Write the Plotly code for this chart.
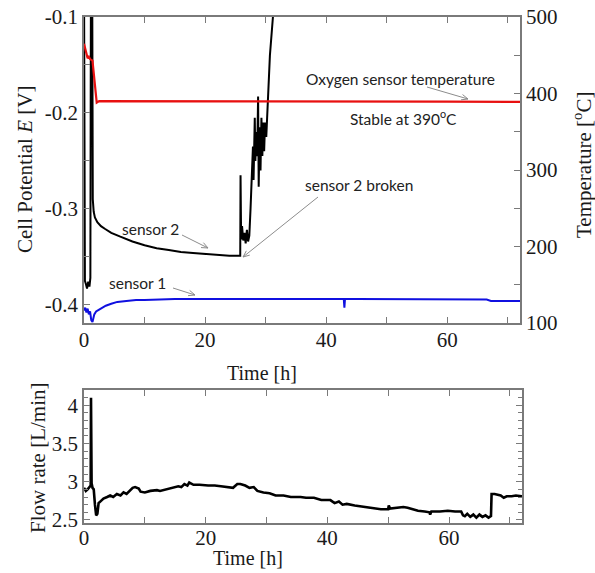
import math
import plotly.graph_objects as go

# ---------------- data ----------------
s2_t = [0.0, 0.15, 0.3, 0.5, 0.7, 0.9, 1.05, 1.15, 1.35, 1.45, 1.6, 1.8, 2.2, 2.8, 3.5, 4.5, 6, 8, 10, 12,
        14, 16, 18, 20, 22, 24, 25.8, 25.85, 25.95, 26.1, 26.3, 26.5, 26.7, 26.9, 27.1, 27.3, 27.5, 27.7,
        27.9, 28.0, 28.1, 28.2, 28.3, 28.45, 28.6, 28.75, 28.85, 29.0, 29.15, 29.3, 29.45, 29.6, 29.75,
        29.9, 30.1, 30.3, 30.7, 31.2, 31.6]
s2_E = [-0.05, -0.375, -0.378, -0.383, -0.376, -0.381, -0.372, -0.05, -0.05, -0.29, -0.303, -0.309, -0.314,
        -0.318, -0.321, -0.325, -0.329, -0.334, -0.338, -0.341, -0.343, -0.345, -0.346, -0.347, -0.348,
        -0.349, -0.349, -0.265, -0.332, -0.318, -0.333, -0.325, -0.336, -0.322, -0.334, -0.328, -0.300,
        -0.262, -0.235, -0.27, -0.215, -0.205, -0.25, -0.22, -0.245, -0.183, -0.277, -0.215, -0.26,
        -0.205, -0.245, -0.21, -0.24, -0.21, -0.225, -0.19, -0.14, -0.1, -0.08]

s1_t = [0, 0.2, 0.4, 0.6, 0.8, 1.0, 1.2, 1.4, 1.7, 2.0, 2.5, 3.0, 3.6, 4.5, 5.5, 7, 8.6, 10, 12, 15, 20,
        25, 30, 35, 40, 42.9, 43.0, 43.1, 45, 50, 55, 60, 64, 66.5, 67.2, 68, 70, 72]
s1_E = [-0.406, -0.403, -0.408, -0.404, -0.410, -0.407, -0.416, -0.418, -0.410, -0.407, -0.405, -0.403,
        -0.401, -0.399, -0.397, -0.396, -0.395, -0.395, -0.3945, -0.394, -0.394, -0.394, -0.394, -0.394,
        -0.394, -0.394, -0.403, -0.394, -0.394, -0.394, -0.394, -0.394, -0.3942, -0.3945, -0.396, -0.396,
        -0.396, -0.396]

temp_t = [0, 0.3, 0.6, 0.8, 1.0, 1.4, 1.6, 2.1, 2.5, 3, 10, 20, 30, 40, 50, 60, 72]
temp_T = [465, 455, 446, 448, 445, 443, 425, 388, 390, 390, 390, 390, 390, 390, 390, 389.5, 389]

flow_t = [0, 0.3, 0.6, 0.9, 1.1, 1.15, 1.25, 1.4, 1.6, 1.8, 2.0, 2.2, 2.4, 2.8, 3.2, 3.8, 4.3, 4.8, 5.4,
          6.0, 6.5, 7.0, 7.6, 8.0, 8.4, 9.0, 9.3, 10.0, 10.9, 12, 12.5, 13.5, 14.7, 15.5, 16.0, 16.5, 17.0,
          17.3, 18, 19, 20.4, 21.5, 22.5, 23.7, 24.5, 25.2, 25.7, 26.5, 27.2, 27.9, 28.5, 29.5, 30.5, 31.5,
          32.8, 34, 35.6, 36.5, 37.8, 39, 40.5, 41.2, 41.9, 42.5, 43.2, 44.5, 46, 47.5, 48.8, 50.0, 50.1,
          50.3, 51.6, 52.5, 53.2, 54.0, 54.9, 56, 56.8, 56.9, 57.1, 58.5, 59.8, 61, 62, 62.3, 62.6, 63,
          63.5, 64, 64.5, 65, 65.5, 66, 66.5, 66.9, 67.0, 67.5, 68.5, 69, 69.5, 70.3, 71, 72]
flow_F = [2.92, 2.88, 2.90, 2.93, 2.95, 4.10, 2.98, 2.92, 2.90, 2.70, 2.56, 2.58, 2.72, 2.75, 2.78, 2.80,
          2.82, 2.80, 2.84, 2.82, 2.86, 2.84, 2.89, 2.92, 2.93, 2.91, 2.87, 2.86, 2.88, 2.89, 2.88, 2.90,
          2.92, 2.94, 2.93, 2.97, 2.95, 2.99, 2.96, 2.96, 2.95, 2.95, 2.94, 2.93, 2.92, 2.97, 2.97, 2.95,
          2.92, 2.93, 2.88, 2.86, 2.85, 2.82, 2.82, 2.80, 2.80, 2.79, 2.79, 2.76, 2.76, 2.72, 2.74, 2.70,
          2.71, 2.69, 2.67, 2.65, 2.64, 2.64, 2.69, 2.65, 2.66, 2.67, 2.66, 2.64, 2.62, 2.61, 2.60, 2.57,
          2.61, 2.61, 2.62, 2.61, 2.61, 2.56, 2.55, 2.58, 2.54, 2.57, 2.53, 2.57, 2.54, 2.56, 2.53, 2.55,
          2.84, 2.84, 2.82, 2.79, 2.81, 2.81, 2.82, 2.81]

x_ticks = [0, 20, 40, 60]
e_ticks = [-0.1, -0.2, -0.3, -0.4]
e_labels = ["-0.1", "-0.2", "-0.3", "-0.4"]
t_ticks = [100, 200, 300, 400, 500]
f_ticks = [2.5, 3, 3.5, 4]
f_labels = ["2.5", "3", "3.5", "4"]

# ---------------- figure ----------------
W, H = 595, 573
def px(x):
    return x / W
def py(y):
    return 1 - y / H

SERIF = "Liberation Serif, Times New Roman, serif"
SANS = "Lato, Open Sans, sans-serif"
FRAME = "#7a7a7a"
TXT = "#1a1a1a"

fig = go.Figure()
fig.add_trace(go.Scatter(x=s2_t, y=s2_E, mode="lines", line=dict(color="black", width=2), xaxis="x", yaxis="y"))
fig.add_trace(go.Scatter(x=s1_t, y=s1_E, mode="lines", line=dict(color="#1010e0", width=2), xaxis="x", yaxis="y"))
fig.add_trace(go.Scatter(x=temp_t, y=temp_T, mode="lines", line=dict(color="#e81010", width=2.2), xaxis="x", yaxis="y2"))
fig.add_trace(go.Scatter(x=flow_t, y=flow_F, mode="lines", line=dict(color="black", width=2.6),
                         xaxis="x2", yaxis="y3"))

common = dict(showgrid=False, zeroline=False, showline=True, linecolor=FRAME, linewidth=1.5,
              ticks="inside", ticklen=6, tickcolor=FRAME, tickwidth=1.3, automargin=False,
              tickfont=dict(family=SERIF, size=21, color=TXT))

fig.update_layout(
    width=W, height=H, showlegend=False,
    paper_bgcolor="white", plot_bgcolor="white",
    margin=dict(l=0, r=0, t=0, b=0, autoexpand=False),
    xaxis=dict(domain=[px(84), px(520)], anchor="y", range=[0, 72], tickvals=x_ticks, mirror="ticks",
               ticklabelstandoff=-3,
               minor=dict(tickvals=[10, 30, 50, 70], ticks="inside", ticklen=6, tickcolor=FRAME), **common),
    yaxis=dict(domain=[py(323), py(17)], anchor="x", range=[-0.419, -0.1], tickvals=e_ticks, ticktext=e_labels,
               minor=dict(tickvals=[-0.15, -0.25, -0.35], ticks="inside", ticklen=6, tickcolor=FRAME), **common),
    yaxis2=dict(overlaying="y", side="right", anchor="x", range=[100, 500], tickvals=t_ticks,
                minor=dict(tickvals=[150, 250, 350, 450], ticks="inside", ticklen=6, tickcolor=FRAME), **common),
    xaxis2=dict(domain=[px(84), px(522)], anchor="y3", range=[0, 72], tickvals=x_ticks, mirror="ticks",
                ticklabelstandoff=-5,
                minor=dict(tickvals=[10, 30, 50, 70], ticks="inside", ticklen=6, tickcolor=FRAME), **common),
    yaxis3=dict(domain=[py(523), py(390)], anchor="x2", range=[2.46, 4.2], tickvals=f_ticks, ticktext=f_labels,
                mirror="ticks", minor=dict(dtick=0.1, tick0=2.5, ticks="inside", ticklen=4, tickcolor=FRAME), **common),
)

ann = []
def title(text, x, y, angle=0, size=21):
    ann.append(dict(text=text, x=px(x), y=py(y), xref="paper", yref="paper", showarrow=False,
                    textangle=angle, xanchor="center", yanchor="middle",
                    font=dict(family=SERIF, size=size, color=TXT)))

title("Cell Potential <i>E</i> [V]", 25, 170, -90)
title("Temperature [<sup>o</sup>C]", 582, 165, -90)
title("Time [h]", 262, 373, 0, 20)
title("Flow rate [L/min]", 38, 458, -90)
title("Time [h]", 248, 558, 0, 20)

def label(text, x, y):
    ann.append(dict(text=text, x=px(x), y=py(y), xref="paper", yref="paper", showarrow=False,
                    xanchor="center", yanchor="middle", font=dict(family=SANS, size=15.5, color="#222")))

label("Oxygen sensor temperature", 400, 79)
label("Stable at 390<sup>o</sup>C", 403, 117)
label("sensor 2 broken", 359, 185)
label("sensor 2", 150, 229)
label("sensor 1", 137, 283)

shapes = []
def arrow(x0, y0, x1, y1, head=7, spread=0.4):
    ang = math.atan2(y1 - y0, x1 - x0)
    hx1 = x1 - head * math.cos(ang - spread)
    hy1 = y1 - head * math.sin(ang - spread)
    hx2 = x1 - head * math.cos(ang + spread)
    hy2 = y1 - head * math.sin(ang + spread)
    path = (f"M {px(x0)} {py(y0)} L {px(x1)} {py(y1)} "
            f"M {px(hx1)} {py(hy1)} L {px(x1)} {py(y1)} L {px(hx2)} {py(hy2)}")
    shapes.append(dict(type="path", path=path, xref="paper", yref="paper",
                       line=dict(color="#8c8c8c", width=1)))

arrow(427, 87, 468, 99)
arrow(318, 197, 243, 257)
arrow(182, 235, 208, 248)
arrow(173, 288, 195, 295)

fig.update_layout(annotations=ann, shapes=shapes)
fig.write_html("out.html", config={"displayModeBar": False},
               post_script="document.body.style.margin='0px';document.body.style.padding='0px';"
                           "document.body.style.overflow='hidden';")
